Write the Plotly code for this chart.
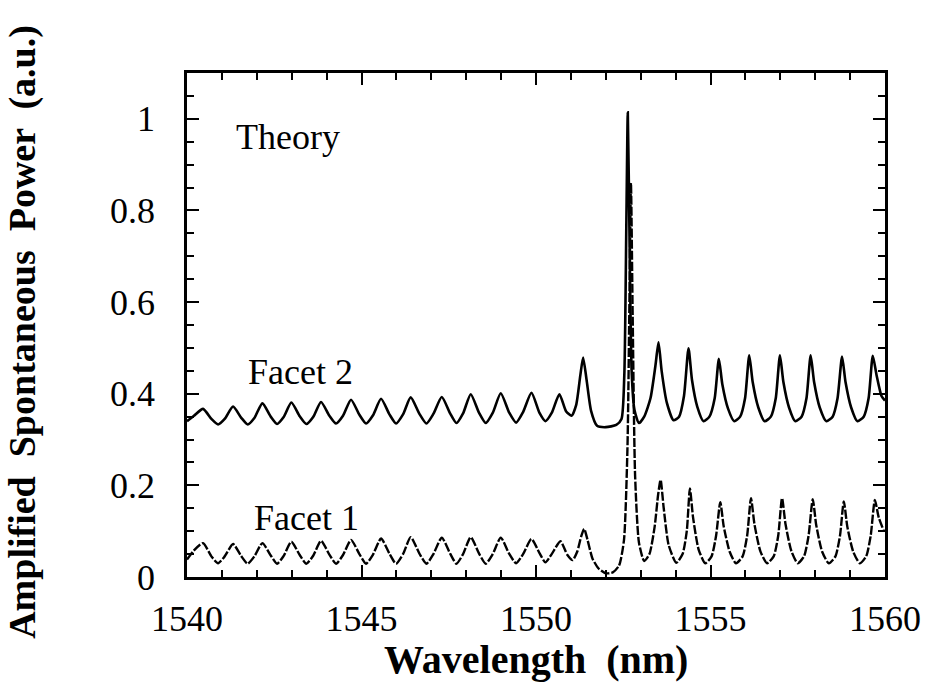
import plotly.graph_objects as go

# ---------------- data ----------------
facet2_wl = [
    1540.00, 1540.20, 1540.46, 1540.70, 1540.89, 1541.08, 1541.32, 1541.55, 1541.74, 1541.93,
    1542.16, 1542.40, 1542.58, 1542.77, 1542.99, 1543.23, 1543.42, 1543.62, 1543.84, 1544.08,
    1544.27, 1544.47, 1544.70, 1544.94, 1545.13, 1545.33, 1545.56, 1545.80, 1545.99, 1546.19,
    1546.41, 1546.66, 1546.86, 1547.06, 1547.30, 1547.54, 1547.72, 1547.91, 1548.13, 1548.37,
    1548.56, 1548.76, 1548.99, 1549.23, 1549.43, 1549.63, 1549.87, 1550.10, 1550.27, 1550.45,
    1550.67, 1550.86, 1551.02, 1551.15, 1551.27, 1551.35, 1551.45, 1551.58, 1551.75, 1552.00,
    1552.30, 1552.45, 1552.53, 1552.59, 1552.63, 1552.68, 1552.74, 1552.82, 1552.95, 1553.10,
    1553.28, 1553.42, 1553.51, 1553.60, 1553.75, 1553.94, 1554.10, 1554.24, 1554.37, 1554.47,
    1554.62, 1554.80, 1554.97, 1555.12, 1555.24, 1555.34, 1555.50, 1555.68, 1555.85, 1555.99,
    1556.11, 1556.21, 1556.37, 1556.55, 1556.73, 1556.87, 1556.99, 1557.09, 1557.25, 1557.43,
    1557.61, 1557.75, 1557.87, 1557.97, 1558.13, 1558.32, 1558.50, 1558.64, 1558.77, 1558.87,
    1559.03, 1559.21, 1559.39, 1559.53, 1559.65, 1559.76, 1559.90, 1560.00,
]
facet2_power = [
    0.340, 0.352, 0.367, 0.345, 0.333, 0.345, 0.372, 0.348, 0.333, 0.347,
    0.379, 0.350, 0.334, 0.349, 0.381, 0.351, 0.334, 0.350, 0.382, 0.352,
    0.335, 0.352, 0.387, 0.354, 0.335, 0.353, 0.389, 0.355, 0.335, 0.355,
    0.392, 0.356, 0.335, 0.356, 0.393, 0.357, 0.336, 0.357, 0.399, 0.358,
    0.336, 0.358, 0.401, 0.359, 0.337, 0.360, 0.402, 0.358, 0.340, 0.358,
    0.399, 0.362, 0.352, 0.375, 0.440, 0.479, 0.430, 0.362, 0.330, 0.327,
    0.332, 0.345, 0.440, 0.780, 1.014, 0.740, 0.450, 0.365, 0.336, 0.350,
    0.390, 0.460, 0.512, 0.450, 0.380, 0.342, 0.350, 0.395, 0.499, 0.430,
    0.372, 0.340, 0.350, 0.390, 0.476, 0.420, 0.368, 0.340, 0.350, 0.390,
    0.484, 0.425, 0.370, 0.340, 0.350, 0.390, 0.484, 0.425, 0.370, 0.340,
    0.350, 0.390, 0.484, 0.425, 0.370, 0.340, 0.350, 0.390, 0.481, 0.425,
    0.370, 0.340, 0.350, 0.390, 0.483, 0.440, 0.395, 0.385,
]

facet1_wl = [
    1540.00, 1540.20, 1540.46, 1540.70, 1540.89, 1541.08, 1541.32, 1541.55, 1541.74, 1541.93,
    1542.16, 1542.40, 1542.58, 1542.77, 1542.99, 1543.23, 1543.42, 1543.62, 1543.84, 1544.08,
    1544.27, 1544.47, 1544.70, 1544.94, 1545.13, 1545.33, 1545.56, 1545.80, 1545.99, 1546.19,
    1546.41, 1546.66, 1546.86, 1547.06, 1547.30, 1547.54, 1547.72, 1547.91, 1548.13, 1548.37,
    1548.56, 1548.76, 1548.99, 1549.23, 1549.43, 1549.63, 1549.87, 1550.10, 1550.27, 1550.45,
    1550.70, 1550.90, 1551.05, 1551.18, 1551.30, 1551.38, 1551.48, 1551.62, 1551.80, 1552.00,
    1552.20, 1552.38, 1552.52, 1552.62, 1552.68, 1552.72, 1552.77, 1552.84, 1552.95, 1553.10,
    1553.25, 1553.40, 1553.50, 1553.57, 1553.66, 1553.80, 1554.02, 1554.20, 1554.32, 1554.41,
    1554.50, 1554.66, 1554.85, 1555.03, 1555.16, 1555.28, 1555.38, 1555.55, 1555.73, 1555.92,
    1556.05, 1556.16, 1556.26, 1556.43, 1556.62, 1556.81, 1556.94, 1557.05, 1557.15, 1557.32,
    1557.50, 1557.68, 1557.81, 1557.93, 1558.03, 1558.20, 1558.39, 1558.58, 1558.71, 1558.82,
    1558.92, 1559.09, 1559.28, 1559.46, 1559.59, 1559.71, 1559.82, 1559.97,
]
facet1_power = [
    0.038, 0.058, 0.074, 0.045, 0.030, 0.045, 0.072, 0.046, 0.029, 0.045,
    0.074, 0.047, 0.029, 0.046, 0.077, 0.048, 0.029, 0.047, 0.079, 0.049,
    0.029, 0.048, 0.081, 0.050, 0.029, 0.049, 0.084, 0.051, 0.029, 0.050,
    0.087, 0.051, 0.029, 0.050, 0.086, 0.051, 0.029, 0.050, 0.087, 0.051,
    0.029, 0.050, 0.086, 0.051, 0.030, 0.050, 0.083, 0.052, 0.032, 0.050,
    0.078, 0.048, 0.037, 0.055, 0.090, 0.105, 0.080, 0.040, 0.018, 0.008,
    0.010, 0.025, 0.080, 0.280, 0.620, 0.860, 0.570, 0.220, 0.075, 0.035,
    0.050, 0.110, 0.180, 0.212, 0.150, 0.070, 0.031, 0.050, 0.100, 0.193,
    0.130, 0.060, 0.030, 0.045, 0.090, 0.163, 0.110, 0.055, 0.030, 0.045,
    0.090, 0.172, 0.115, 0.056, 0.030, 0.045, 0.090, 0.172, 0.115, 0.056,
    0.030, 0.045, 0.090, 0.170, 0.113, 0.055, 0.030, 0.045, 0.090, 0.165,
    0.110, 0.055, 0.030, 0.045, 0.090, 0.168, 0.130, 0.100,
]

x_tick_vals = [1540, 1545, 1550, 1555, 1560]
x_tick_text = ["1540", "1545", "1550", "1555", "1560"]
y_tick_vals = [0, 0.2, 0.4, 0.6, 0.8, 1]
y_tick_text = ["0", "0.2", "0.4", "0.6", "0.8", "1"]

labels = ["Theory", "Facet 2", "Facet 1"]
label_x = [1541.34, 1541.70, 1541.86]
label_y = [0.96, 0.448, 0.129]

x_title = "Wavelength  (nm)"
y_title = "Amplified  Spontaneous  Power  (a.u.)"

# ---------------- figure ----------------
SERIF = "Liberation Serif, Times New Roman, serif"

fig = go.Figure()
fig.add_trace(go.Scatter(
    x=facet2_wl, y=facet2_power, mode="lines", name="Facet 2",
    line=dict(color="black", width=2.6, shape="spline", smoothing=0.6),
))
fig.add_trace(go.Scatter(
    x=facet1_wl, y=facet1_power, mode="lines", name="Facet 1",
    line=dict(color="black", width=2.4, shape="spline", smoothing=0.6, dash="9px,2px"),
))

for t, lx, ly in zip(labels, label_x, label_y):
    fig.add_annotation(x=lx, y=ly, text=t, showarrow=False, xanchor="left", yanchor="middle",
                       font=dict(family=SERIF, size=36, color="black"))

# axis titles as paper-anchored annotations
fig.add_annotation(x=0.5, y=-0.163, xref="paper", yref="paper", text="<b>" + x_title + "</b>",
                   showarrow=False, xanchor="center", yanchor="middle",
                   font=dict(family=SERIF, size=40, color="black"))
fig.add_annotation(x=-0.236, y=0.487, xref="paper", yref="paper", text="<b>" + y_title + "</b>",
                   showarrow=False, xanchor="center", yanchor="middle", textangle=-90,
                   font=dict(family=SERIF, size=38, color="black"))

axis_common = dict(
    showline=True, linecolor="black", linewidth=2.5, mirror="ticks",
    ticks="inside", ticklen=12, tickwidth=2, tickcolor="black",
    showgrid=False, zeroline=False, automargin=False,
    tickfont=dict(family=SERIF, size=36, color="black"),
)

fig.update_xaxes(
    range=[1540, 1560], tickvals=x_tick_vals, ticktext=x_tick_text,
    minor=dict(dtick=1, ticks="inside", ticklen=7, tickwidth=1.8, tickcolor="black"),
    ticklabelstandoff=8,
    **axis_common,
)
fig.update_yaxes(
    range=[0, 1.1], tickvals=y_tick_vals, ticktext=y_tick_text,
    minor=dict(dtick=0.05, ticks="inside", ticklen=7, tickwidth=1.8, tickcolor="black"),
    ticklabelstandoff=22,
    **axis_common,
)

fig.update_layout(
    width=931, height=687,
    margin=dict(l=187, r=46, t=73, b=110),
    paper_bgcolor="white", plot_bgcolor="white",
    showlegend=False,
)

fig.write_html("out.html", config={"displayModeBar": False},
               post_script="document.body.style.margin='0';")
